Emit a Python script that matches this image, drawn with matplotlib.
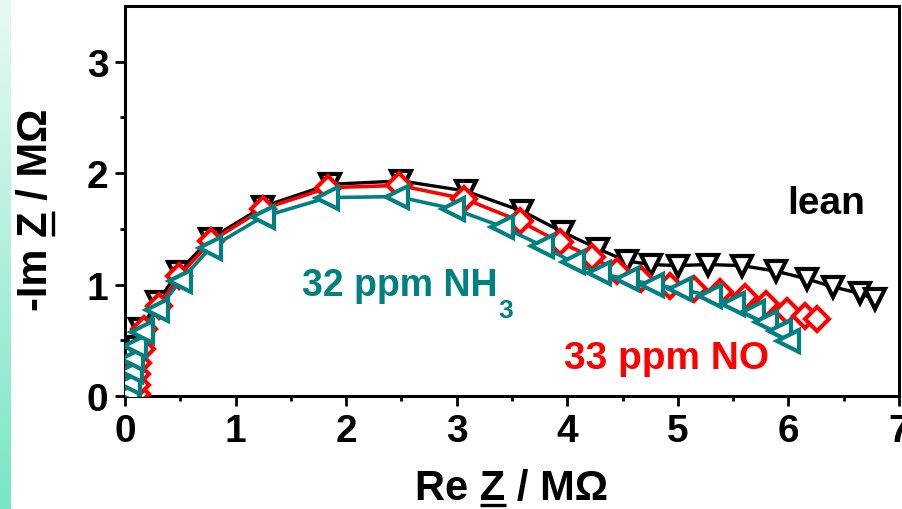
import numpy as np
import matplotlib
matplotlib.use("Agg")
import matplotlib.pyplot as plt
from matplotlib.font_manager import FontProperties
from matplotlib.lines import Line2D

plt.rcParams['font.family'] = ['Liberation Sans', 'DejaVu Sans']
plt.rcParams['font.weight'] = 'bold'

# Nyquist data, Re Z / Im Z in MOhm
lean_re = [0.06, 0.07, 0.08, 0.10, 0.14, 0.29, 0.48, 0.77, 1.25, 1.85, 2.50, 3.08, 3.59,
           3.96, 4.28, 4.54, 4.76, 5.00, 5.27, 5.58, 5.89, 6.17, 6.40, 6.65, 6.78]
lean_im = [0.05, 0.15, 0.27, 0.44, 0.60, 0.84, 1.11, 1.41, 1.70, 1.90, 1.93, 1.84, 1.66,
           1.47, 1.32, 1.21, 1.18, 1.17, 1.18, 1.17, 1.12, 1.05, 0.98, 0.92, 0.87]

no_re = [0.11, 0.11, 0.11, 0.12, 0.15, 0.17, 0.31, 0.49, 0.78, 1.25, 1.84, 2.48, 3.07,
         3.57, 3.93, 4.22, 4.45, 4.67, 4.93, 5.15, 5.38, 5.61, 5.80, 5.99, 6.15, 6.26]
no_im = [0.02, 0.10, 0.20, 0.30, 0.42, 0.60, 0.81, 1.08, 1.39, 1.68, 1.87, 1.89, 1.77,
         1.57, 1.38, 1.25, 1.12, 1.05, 0.99, 0.96, 0.93, 0.89, 0.83, 0.76, 0.72, 0.69]

nh3_re = [0.03, 0.04, 0.05, 0.06, 0.09, 0.15, 0.29, 0.50, 0.77, 1.25, 1.83, 2.46, 2.97,
          3.41, 3.77, 4.05, 4.29, 4.54, 4.77, 5.02, 5.29, 5.50, 5.68, 5.80, 5.92, 6.00]
nh3_im = [0.03, 0.12, 0.22, 0.33, 0.45, 0.57, 0.77, 1.03, 1.33, 1.61, 1.78, 1.79, 1.68,
          1.52, 1.35, 1.20, 1.10, 1.05, 1.00, 0.96, 0.90, 0.83, 0.75, 0.66, 0.58, 0.49]

TEAL = '#008080'
RED = '#ff0000'
W, H = 903, 510

fig = plt.figure(figsize=(W / 100, H / 100), dpi=100)
renderer = fig.canvas.get_renderer()

# slide-style gradient strip on the left edge
strip = fig.add_axes([0, 0, 11 / W, 1])
grad = np.linspace(0, 1, 256).reshape(-1, 1)
cmap = matplotlib.colors.LinearSegmentedColormap.from_list('strip', ['#e8f9f3', '#78e6c5'])
strip.imshow(grad, aspect='auto', cmap=cmap, origin='upper')
strip.axis('off')

ax = fig.add_axes([125 / W, 1 - 397 / H, 774 / W, 390 / H])

ax.plot(lean_re, lean_im, color='black', lw=2.4, marker='v', ms=14, mew=3,
        mfc='white', mec='black', zorder=3)
ax.plot(no_re, no_im, color=RED, lw=2.6, marker='D', ms=12, mew=3,
        mfc='white', mec=RED, zorder=4)
ax.plot(nh3_re, nh3_im, color=TEAL, lw=2.6, marker='<', ms=16, mew=3,
        mfc='white', mec=TEAL, zorder=5)

ax.set_xlim(0, 7)
ax.set_ylim(0, 3.5)
ax.set_xticks(range(0, 8))
ax.set_yticks([0, 1, 2, 3])
ax.set_xticks(np.arange(0.5, 7, 1.0), minor=True)
ax.set_yticks(np.arange(0.5, 3.5, 1.0), minor=True)
ax.tick_params(which='major', direction='out', length=7, width=2, labelsize=28, pad=5)
ax.tick_params(which='minor', direction='out', length=3.6, width=2)
for s in ax.spines.values():
    s.set_linewidth(2.2)
for lab in ax.get_xticklabels() + ax.get_yticklabels():
    lab.set_fontweight('bold')

ax.text(6.34, 1.73, 'lean', color='black', fontsize=28, fontweight='bold',
        ha='center', va='center')
ax.text(4.9, 0.34, '33 ppm NO', color=RED, fontsize=28, fontweight='bold',
        ha='center', va='center')

# NH3 label: subscript drawn as its own text so it can sit lower
nh = ax.text(1.6, 0.91, '32 ppm NH', color=TEAL, fontsize=27, fontweight='bold',
             ha='left', va='baseline')
nh_box = nh.get_window_extent(renderer)
ax.annotate('3', xy=(nh_box.x1 / W, nh_box.y0 / H), xycoords='figure fraction',
            xytext=(1, -14), textcoords='offset pixels', color=TEAL, fontsize=19,
            fontweight='bold', ha='left', va='baseline')

# axis titles with an underlined Z (mathtext has no \underline)
label_prop = FontProperties(family=['Liberation Sans', 'DejaVu Sans'], weight='bold', size=30)


def text_width(s):
    return renderer.get_text_width_height_descent(s, label_prop, ismath=False)[0]


def underlined_label(pre, z, post, cx, cy, vertical=False):
    # cx, cy: baseline centre in pixels (origin bottom-left)
    full = pre + z + post
    fig.text(cx / W, cy / H, full, fontproperties=label_prop, ha='center', va='baseline',
             rotation=90 if vertical else 0, rotation_mode='anchor')
    start = -text_width(full) / 2
    z1 = start + text_width(pre + z)
    z0 = z1 - text_width(z)
    off = 6
    if vertical:
        xs = [cx + off, cx + off]
        ys = [cy + z0, cy + z1]
    else:
        xs = [cx + z0, cx + z1]
        ys = [cy - off, cy - off]
    fig.add_artist(Line2D([x / W for x in xs], [y / H for y in ys], lw=2.4,
                          color='black', transform=fig.transFigure, solid_capstyle='butt'))


underlined_label('Re ', 'Z', ' / M\u03a9', 512, H - 500)
underlined_label('-Im ', 'Z', ' / M\u03a9', 47, H - 210, vertical=True)

fig.savefig('out.png', dpi=100)
